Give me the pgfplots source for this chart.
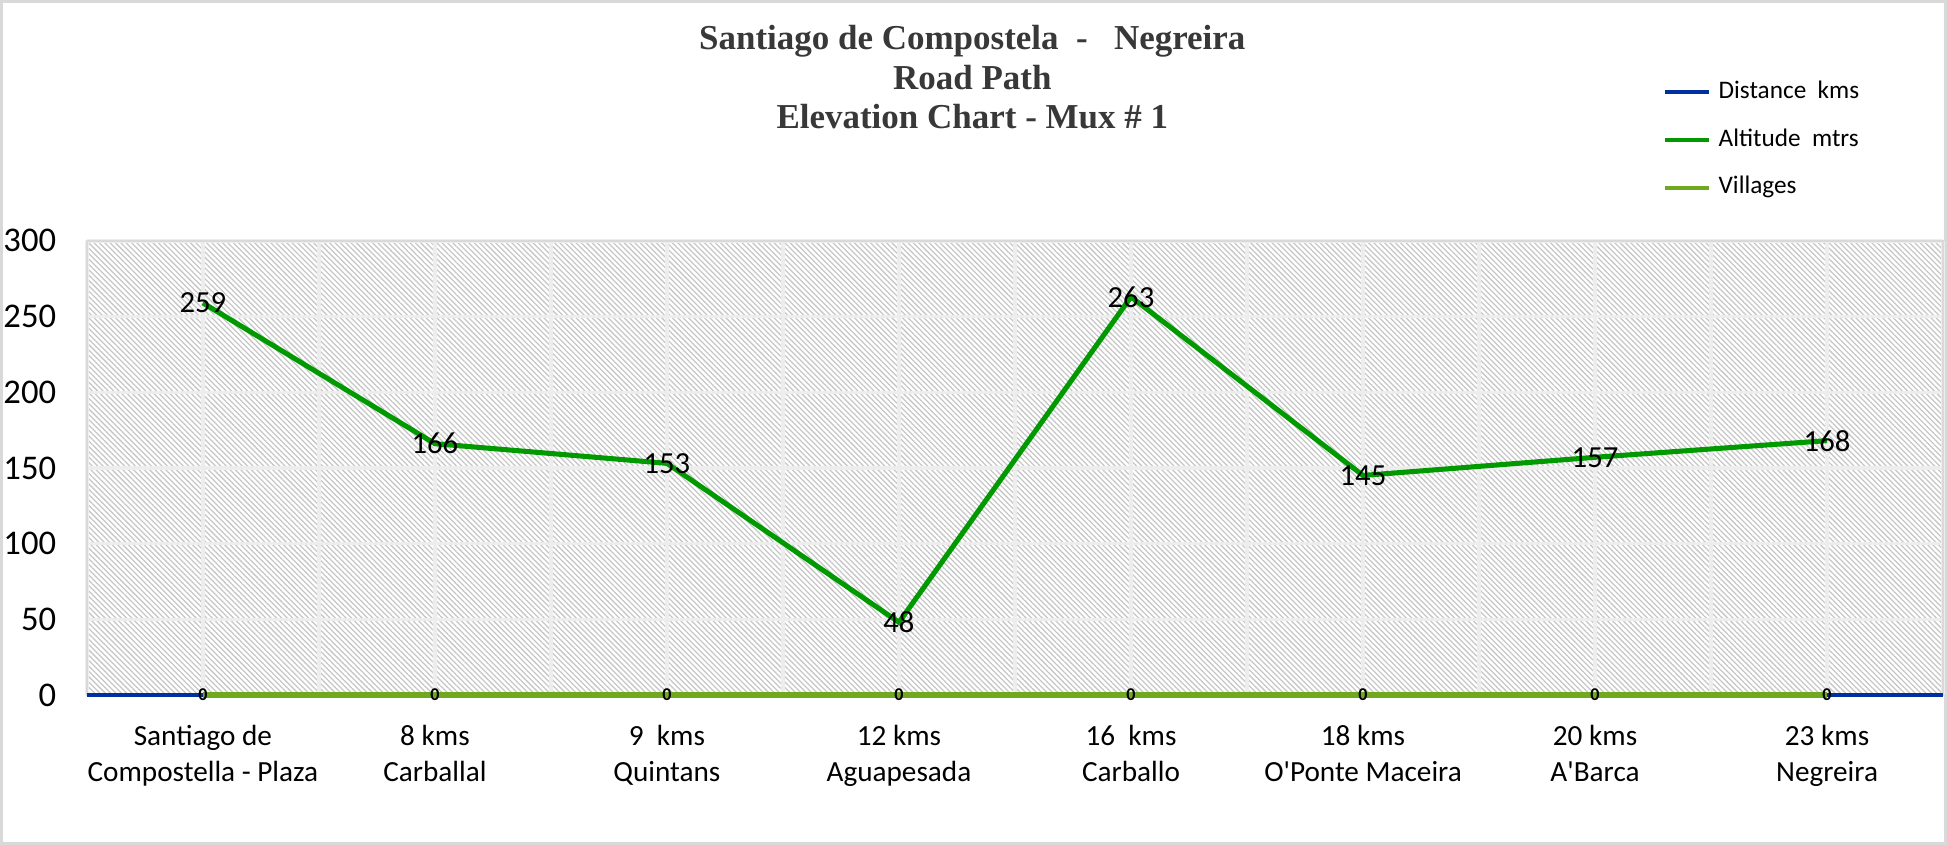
\documentclass[border=0pt]{standalone}
\usepackage{pgfplots}
\pgfplotsset{compat=1.18}
\usepackage{fontspec}
\setmainfont{Carlito}
\newfontfamily\titlefont{Liberation Serif}
\usetikzlibrary{patterns.meta}

\definecolor{distblue}{RGB}{0,48,160}
\definecolor{altgreen}{RGB}{0,153,0}
\definecolor{villgreen}{RGB}{112,168,32}

\begin{document}
\begin{tikzpicture}
\path[use as bounding box] (-24.1pt,-41.6pt) rectangle (515.8pt,192.7pt);
\draw[gray!30, line width=0.8pt] (-23.7pt,-41.2pt) rectangle (515.4pt,192.3pt);
\begin{axis}[
  scale only axis,
  width=514.7pt, height=125.9pt,
  xmin=-0.5, xmax=7.5, ymin=0, ymax=300,
  ytick={0,50,...,300},
  xtick={0,...,7},
  xticklabels={{Santiago de\\Compostella - Plaza}, {8 kms\\Carballal}, {9\ \ kms\\Quintans}, {12 kms\\Aguapesada}, {16\ \ kms\\Carballo}, {18 kms\\O\textquotesingle Ponte Maceira}, {20 kms\\A\textquotesingle Barca}, {23 kms\\Negreira}},
  minor xtick={-0.5,0.5,...,7.5},
  xmajorgrids, xminorgrids, ymajorgrids,
  grid style={gray!14, line width=0.9pt},
  minor grid style={gray!14, line width=0.9pt},
  major tick length=0pt, minor tick length=0pt,
  axis line style={gray!30},
  axis background/.style={pattern={Lines[angle=-45,distance=1.05pt,line width=0.35pt]}, pattern color=gray!45},
  /pgf/number format/assume math mode=true,
  yticklabel style={font=\fontsize{9.6}{11}\selectfont, xshift=-5pt},
  xticklabel style={align=center, font=\fontsize{8.1}{9.8}\selectfont, yshift=-5pt},
  title={Santiago de Compostela\ \ -\ \ \ Negreira\\Road Path\\Elevation Chart - Mux \# 1},
  title style={at={(0.477,1.313)}, anchor=center, align=center, font=\titlefont\bfseries\fontsize{9.7}{11}\selectfont, text=black!78},
  legend style={at={(0.849,1.37)}, anchor=north west, draw=none, fill=none, font=\fontsize{7}{8}\selectfont, row sep=2.9pt, inner sep=0pt, cells={anchor=west}},
  legend image code/.code={\draw[#1, line width=1.1pt] (0pt,0pt) -- (12.2pt,0pt);},
  clip=false,
]
\addplot[distblue, line width=0.9pt] coordinates {(-0.5,0) (7.5,0)};
\addlegendentry{Distance\ \ kms}
\addplot[altgreen, line width=1.4pt, nodes near coords,
  every node near coord/.append style={anchor=center, text=black, font=\fontsize{8.5}{9}\selectfont}]
  coordinates {(0,259) (1,166) (2,153) (3,48) (4,263) (5,145) (6,157) (7,168)};
\addlegendentry{Altitude\ \ mtrs}
\addplot[villgreen, line width=1.5pt, nodes near coords,
  every node near coord/.append style={anchor=center, text=black, font=\fontsize{5}{5}\selectfont\bfseries}]
  coordinates {(0,0) (1,0) (2,0) (3,0) (4,0) (5,0) (6,0) (7,0)};
\addlegendentry{Villages}
\end{axis}
\end{tikzpicture}
\end{document}
